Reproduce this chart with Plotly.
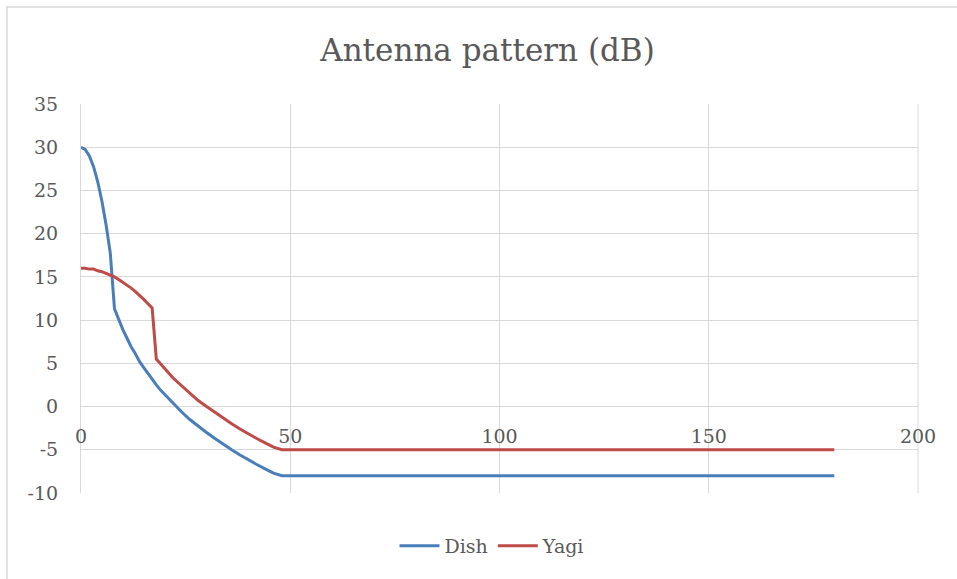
import plotly.graph_objects as go

# Off-axis angle (degrees) and gain (dB) for each antenna
dish_angle = [0, 1, 2, 3, 4, 5, 6, 7, 8, 9, 10, 11, 12, 13, 14, 15, 16, 17, 18, 19, 20,
              22, 24, 26, 28, 30, 32, 34, 36, 38, 40, 42, 44, 46, 48, 180]
dish_gain = [30.0, 29.75, 29.0, 27.75, 26.0, 23.75, 21.0, 17.75, 11.3, 10.0, 8.9, 7.9, 6.9,
             6.1, 5.2, 4.5, 3.8, 3.1, 2.5, 1.9, 1.4,
             0.3, -0.6, -1.5, -2.3, -3.0, -3.7, -4.4, -5.0, -5.6, -6.2, -6.7, -7.2, -7.7, -8.0, -8.0]

yagi_angle = [0, 1, 2, 3, 4, 5, 6, 7, 8, 9, 10, 11, 12, 13, 14, 15, 16, 17, 18, 19, 20,
              22, 24, 26, 28, 30, 32, 34, 36, 38, 40, 42, 44, 46, 48, 180]
yagi_gain = [16.0, 16.0, 15.9, 15.9, 15.7, 15.6, 15.4, 15.2, 15.0, 14.7, 14.4, 14.1, 13.7,
             13.3, 12.9, 12.4, 11.9, 11.4, 5.5, 4.9, 4.4,
             3.3, 2.4, 1.5, 0.7, 0.0, -0.7, -1.4, -2.0, -2.6, -3.2, -3.7, -4.2, -4.7, -5.0, -5.0]

x_ticks = [0, 50, 100, 150, 200]
y_ticks = [-10, -5, 0, 5, 10, 15, 20, 25, 30, 35]
y_tick_text = ["-10", "-5", "0", "5", "10", "15", "20", "25", "30", "35"]

FONT = "DejaVu Serif"
TXT = "#595959"
GRID = "#D9D9D9"

fig = go.Figure()
fig.add_trace(go.Scatter(x=dish_angle, y=dish_gain, mode="lines", name="Dish",
                         line=dict(color="#4A7EBB", width=3)))
fig.add_trace(go.Scatter(x=yagi_angle, y=yagi_gain, mode="lines", name="Yagi",
                         line=dict(color="#BE4B48", width=3)))

W, H = 957, 579
L, R, T, B = 81, 39, 104, 86
pw = W - L - R
ph = H - T - B

fig.update_layout(
    width=W, height=H,
    margin=dict(l=L, r=R, t=T, b=B),
    paper_bgcolor="white", plot_bgcolor="white",
    font=dict(family=FONT, color=TXT, size=19),
    title=dict(text="Antenna pattern (dB)", xref="container", x=487.5 / W, xanchor="center",
               yref="container", y=1 - 50 / H, yanchor="middle",
               font=dict(size=31, color=TXT, family=FONT)),
    showlegend=True,
    legend=dict(orientation="h", x=(492 - L) / pw, xanchor="center", y=-(546 - T - ph) / ph,
                yanchor="middle", font=dict(size=19, color=TXT), itemwidth=40,
                bgcolor="rgba(0,0,0,0)"),
    xaxis=dict(range=[0, 200], tickvals=x_ticks, showgrid=True, gridcolor=GRID, gridwidth=1,
               zeroline=False, showline=False, ticks="", anchor="free",
               position=10 / 45, ticklabelstandoff=16, tickfont=dict(size=19, color=TXT)),
    yaxis=dict(range=[-10, 35], tickvals=y_ticks, ticktext=y_tick_text, showgrid=True,
               gridcolor=GRID, gridwidth=1,
               zeroline=False, showline=True, linecolor=GRID, linewidth=1, ticks="",
               ticklabelstandoff=18, tickfont=dict(size=19, color=TXT)),
    shapes=[
        # chart-area border
        dict(type="rect", xref="paper", yref="paper",
             x0=(7 - L) / pw, x1=(W + 5 - L) / pw,
             y0=-(H + 5 - T - ph) / ph, y1=1 + (T - 7) / ph,
             line=dict(color=GRID, width=1.5), fillcolor="rgba(0,0,0,0)", layer="below"),
        # right edge of plot area
        dict(type="line", xref="paper", yref="paper", x0=1, x1=1, y0=0, y1=1,
             line=dict(color=GRID, width=1), layer="below"),
    ],
)

fig.write_html("out.html")
